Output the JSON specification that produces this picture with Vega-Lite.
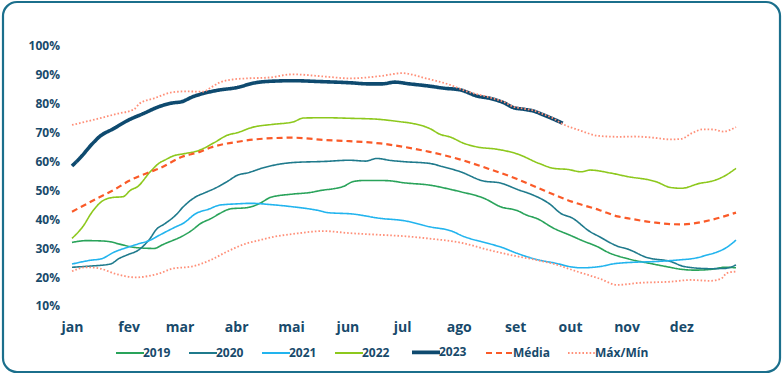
{
  "$schema": "https://vega.github.io/schema/vega-lite/v6.json",
  "width": 777,
  "height": 370,
  "autosize": {"type": "none"},
  "padding": {"left": 3, "top": 2, "right": 2, "bottom": 3},
  "background": "white",
  "config": {
    "view": {"stroke": "#1b6f8c", "strokeWidth": 2.2, "cornerRadius": 14, "fill": "white"},
    "font": "Open Sans"
  },
  "data": {
    "values": [
      {"s":"2019","g":"2019","d":0,"v":32},{"s":"2019","g":"2019","d":8,"v":32.6},{"s":"2019","g":"2019","d":16,"v":32.5},{"s":"2019","g":"2019","d":21,"v":32.2},{"s":"2019","g":"2019","d":26,"v":31.4},{"s":"2019","g":"2019","d":35,"v":30.2},{"s":"2019","g":"2019","d":45,"v":29.9},{"s":"2019","g":"2019","d":50,"v":31.3},{"s":"2019","g":"2019","d":55,"v":32.6},{"s":"2019","g":"2019","d":60,"v":34},{"s":"2019","g":"2019","d":66,"v":36.3},{"s":"2019","g":"2019","d":70,"v":38.3},{"s":"2019","g":"2019","d":77,"v":40.5},{"s":"2019","g":"2019","d":81,"v":42},{"s":"2019","g":"2019","d":87,"v":43.6},{"s":"2019","g":"2019","d":96,"v":44},{"s":"2019","g":"2019","d":103,"v":45.5},{"s":"2019","g":"2019","d":109,"v":47.6},{"s":"2019","g":"2019","d":121,"v":48.7},{"s":"2019","g":"2019","d":130,"v":49.2},{"s":"2019","g":"2019","d":136,"v":49.9},{"s":"2019","g":"2019","d":149,"v":51.4},{"s":"2019","g":"2019","d":154,"v":53},{"s":"2019","g":"2019","d":160,"v":53.4},{"s":"2019","g":"2019","d":169,"v":53.4},{"s":"2019","g":"2019","d":174,"v":53.3},{"s":"2019","g":"2019","d":182,"v":52.6},{"s":"2019","g":"2019","d":196,"v":51.8},{"s":"2019","g":"2019","d":209,"v":50.1},{"s":"2019","g":"2019","d":213,"v":49.5},{"s":"2019","g":"2019","d":226,"v":47.2},{"s":"2019","g":"2019","d":235,"v":44.3},{"s":"2019","g":"2019","d":244,"v":43},{"s":"2019","g":"2019","d":249,"v":41.5},{"s":"2019","g":"2019","d":255,"v":40.2},{"s":"2019","g":"2019","d":264,"v":36.9},{"s":"2019","g":"2019","d":274,"v":34.2},{"s":"2019","g":"2019","d":279,"v":32.8},{"s":"2019","g":"2019","d":289,"v":30.2},{"s":"2019","g":"2019","d":293,"v":28.8},{"s":"2019","g":"2019","d":305,"v":26.3},{"s":"2019","g":"2019","d":317,"v":24.7},{"s":"2019","g":"2019","d":326,"v":23.6},{"s":"2019","g":"2019","d":334,"v":22.7},{"s":"2019","g":"2019","d":341,"v":22.4},{"s":"2019","g":"2019","d":351,"v":22.7},{"s":"2019","g":"2019","d":358,"v":23.4},{"s":"2019","g":"2019","d":364,"v":23.2},

      {"s":"2020","g":"2020","d":0,"v":23.4},{"s":"2020","g":"2020","d":10,"v":23.8},{"s":"2020","g":"2020","d":21,"v":24.5},{"s":"2020","g":"2020","d":26,"v":26.5},{"s":"2020","g":"2020","d":30,"v":27.6},{"s":"2020","g":"2020","d":37,"v":29.6},{"s":"2020","g":"2020","d":43,"v":33.5},{"s":"2020","g":"2020","d":46,"v":36.3},{"s":"2020","g":"2020","d":51,"v":38.5},{"s":"2020","g":"2020","d":57,"v":41.5},{"s":"2020","g":"2020","d":61,"v":44.3},{"s":"2020","g":"2020","d":68,"v":47.8},{"s":"2020","g":"2020","d":73,"v":49.2},{"s":"2020","g":"2020","d":79,"v":50.9},{"s":"2020","g":"2020","d":85,"v":53},{"s":"2020","g":"2020","d":91,"v":55.3},{"s":"2020","g":"2020","d":96,"v":56},{"s":"2020","g":"2020","d":106,"v":58},{"s":"2020","g":"2020","d":121,"v":59.6},{"s":"2020","g":"2020","d":139,"v":60},{"s":"2020","g":"2020","d":152,"v":60.4},{"s":"2020","g":"2020","d":161,"v":60.1},{"s":"2020","g":"2020","d":167,"v":61},{"s":"2020","g":"2020","d":175,"v":60.3},{"s":"2020","g":"2020","d":182,"v":59.9},{"s":"2020","g":"2020","d":196,"v":59.3},{"s":"2020","g":"2020","d":203,"v":58.2},{"s":"2020","g":"2020","d":213,"v":56.4},{"s":"2020","g":"2020","d":225,"v":53.3},{"s":"2020","g":"2020","d":235,"v":52.5},{"s":"2020","g":"2020","d":245,"v":50.1},{"s":"2020","g":"2020","d":251,"v":48.8},{"s":"2020","g":"2020","d":262,"v":45.2},{"s":"2020","g":"2020","d":268,"v":42},{"s":"2020","g":"2020","d":274,"v":40.5},{"s":"2020","g":"2020","d":284,"v":35.7},{"s":"2020","g":"2020","d":289,"v":34},{"s":"2020","g":"2020","d":299,"v":30.7},{"s":"2020","g":"2020","d":305,"v":29.6},{"s":"2020","g":"2020","d":315,"v":26.8},{"s":"2020","g":"2020","d":328,"v":25.4},{"s":"2020","g":"2020","d":336,"v":23.6},{"s":"2020","g":"2020","d":350,"v":22.9},{"s":"2020","g":"2020","d":358,"v":23},{"s":"2020","g":"2020","d":364,"v":24.2},

      {"s":"2021","g":"2021","d":0,"v":24.5},{"s":"2021","g":"2021","d":10,"v":25.8},{"s":"2021","g":"2021","d":16,"v":26.3},{"s":"2021","g":"2021","d":23,"v":28.6},{"s":"2021","g":"2021","d":31,"v":30.4},{"s":"2021","g":"2021","d":36,"v":31.4},{"s":"2021","g":"2021","d":43,"v":32.8},{"s":"2021","g":"2021","d":48,"v":34.5},{"s":"2021","g":"2021","d":57,"v":37.4},{"s":"2021","g":"2021","d":61,"v":38.6},{"s":"2021","g":"2021","d":68,"v":42},{"s":"2021","g":"2021","d":75,"v":43.5},{"s":"2021","g":"2021","d":81,"v":44.9},{"s":"2021","g":"2021","d":90,"v":45.3},{"s":"2021","g":"2021","d":98,"v":45.5},{"s":"2021","g":"2021","d":110,"v":45},{"s":"2021","g":"2021","d":121,"v":44.3},{"s":"2021","g":"2021","d":136,"v":42.9},{"s":"2021","g":"2021","d":140,"v":42.3},{"s":"2021","g":"2021","d":154,"v":41.8},{"s":"2021","g":"2021","d":169,"v":40.3},{"s":"2021","g":"2021","d":182,"v":39.5},{"s":"2021","g":"2021","d":196,"v":37.4},{"s":"2021","g":"2021","d":209,"v":35.7},{"s":"2021","g":"2021","d":213,"v":34.5},{"s":"2021","g":"2021","d":229,"v":31.5},{"s":"2021","g":"2021","d":235,"v":30.4},{"s":"2021","g":"2021","d":244,"v":28.2},{"s":"2021","g":"2021","d":256,"v":25.9},{"s":"2021","g":"2021","d":265,"v":24.8},{"s":"2021","g":"2021","d":274,"v":23.5},{"s":"2021","g":"2021","d":279,"v":23.2},{"s":"2021","g":"2021","d":289,"v":23.6},{"s":"2021","g":"2021","d":297,"v":24.6},{"s":"2021","g":"2021","d":307,"v":25.1},{"s":"2021","g":"2021","d":317,"v":25.3},{"s":"2021","g":"2021","d":332,"v":25.9},{"s":"2021","g":"2021","d":342,"v":26.6},{"s":"2021","g":"2021","d":348,"v":27.6},{"s":"2021","g":"2021","d":355,"v":29},{"s":"2021","g":"2021","d":359,"v":30.3},{"s":"2021","g":"2021","d":364,"v":32.8},

      {"s":"2022","g":"2022","d":0,"v":33.4},{"s":"2022","g":"2022","d":6,"v":37.5},{"s":"2022","g":"2022","d":11,"v":42.5},{"s":"2022","g":"2022","d":16,"v":46},{"s":"2022","g":"2022","d":22,"v":47.5},{"s":"2022","g":"2022","d":28,"v":47.8},{"s":"2022","g":"2022","d":32,"v":50},{"s":"2022","g":"2022","d":36,"v":51.3},{"s":"2022","g":"2022","d":43,"v":56.5},{"s":"2022","g":"2022","d":48,"v":59.5},{"s":"2022","g":"2022","d":51,"v":60.5},{"s":"2022","g":"2022","d":56,"v":62},{"s":"2022","g":"2022","d":61,"v":62.6},{"s":"2022","g":"2022","d":70,"v":63.9},{"s":"2022","g":"2022","d":78,"v":66.5},{"s":"2022","g":"2022","d":85,"v":69},{"s":"2022","g":"2022","d":91,"v":70},{"s":"2022","g":"2022","d":99,"v":71.8},{"s":"2022","g":"2022","d":110,"v":72.8},{"s":"2022","g":"2022","d":121,"v":73.6},{"s":"2022","g":"2022","d":127,"v":75},{"s":"2022","g":"2022","d":139,"v":75.1},{"s":"2022","g":"2022","d":152,"v":74.9},{"s":"2022","g":"2022","d":167,"v":74.6},{"s":"2022","g":"2022","d":180,"v":73.7},{"s":"2022","g":"2022","d":186,"v":73.2},{"s":"2022","g":"2022","d":196,"v":71.4},{"s":"2022","g":"2022","d":202,"v":69.3},{"s":"2022","g":"2022","d":207,"v":68.5},{"s":"2022","g":"2022","d":215,"v":66.2},{"s":"2022","g":"2022","d":222,"v":65},{"s":"2022","g":"2022","d":233,"v":64.2},{"s":"2022","g":"2022","d":244,"v":62.6},{"s":"2022","g":"2022","d":256,"v":59.3},{"s":"2022","g":"2022","d":264,"v":57.6},{"s":"2022","g":"2022","d":272,"v":57.2},{"s":"2022","g":"2022","d":279,"v":56.4},{"s":"2022","g":"2022","d":284,"v":57},{"s":"2022","g":"2022","d":295,"v":56},{"s":"2022","g":"2022","d":305,"v":54.7},{"s":"2022","g":"2022","d":317,"v":53.5},{"s":"2022","g":"2022","d":320,"v":53},{"s":"2022","g":"2022","d":328,"v":51},{"s":"2022","g":"2022","d":334,"v":50.7},{"s":"2022","g":"2022","d":344,"v":52.4},{"s":"2022","g":"2022","d":351,"v":53.2},{"s":"2022","g":"2022","d":357,"v":54.7},{"s":"2022","g":"2022","d":364,"v":57.6},

      {"s":"Média","g":"Média","d":0,"v":42.6},{"s":"Média","g":"Média","d":15,"v":47.6},{"s":"Média","g":"Média","d":24,"v":50.5},{"s":"Média","g":"Média","d":31,"v":53.2},{"s":"Média","g":"Média","d":43,"v":56.4},{"s":"Média","g":"Média","d":48,"v":57.6},{"s":"Média","g":"Média","d":60,"v":61.5},{"s":"Média","g":"Média","d":70,"v":63.3},{"s":"Média","g":"Média","d":76,"v":64.8},{"s":"Média","g":"Média","d":91,"v":66.8},{"s":"Média","g":"Média","d":106,"v":67.9},{"s":"Média","g":"Média","d":121,"v":68.2},{"s":"Média","g":"Média","d":139,"v":67.4},{"s":"Média","g":"Média","d":152,"v":67},{"s":"Média","g":"Média","d":169,"v":66.2},{"s":"Média","g":"Média","d":182,"v":65},{"s":"Média","g":"Média","d":196,"v":63.3},{"s":"Média","g":"Média","d":213,"v":60.6},{"s":"Média","g":"Média","d":229,"v":57.3},{"s":"Média","g":"Média","d":244,"v":53.9},{"s":"Média","g":"Média","d":256,"v":50.7},{"s":"Média","g":"Média","d":267,"v":47.8},{"s":"Média","g":"Média","d":274,"v":46.1},{"s":"Média","g":"Média","d":289,"v":43.2},{"s":"Média","g":"Média","d":299,"v":41},{"s":"Média","g":"Média","d":305,"v":40.3},{"s":"Média","g":"Média","d":320,"v":38.8},{"s":"Média","g":"Média","d":334,"v":38.2},{"s":"Média","g":"Média","d":350,"v":39.7},{"s":"Média","g":"Média","d":364,"v":42.3},

      {"s":"2023","g":"2023","d":0,"v":58.4},{"s":"2023","g":"2023","d":5,"v":61.6},{"s":"2023","g":"2023","d":11,"v":66},{"s":"2023","g":"2023","d":15,"v":68.5},{"s":"2023","g":"2023","d":23,"v":71.4},{"s":"2023","g":"2023","d":31,"v":74.3},{"s":"2023","g":"2023","d":39,"v":76.5},{"s":"2023","g":"2023","d":48,"v":79},{"s":"2023","g":"2023","d":55,"v":80.2},{"s":"2023","g":"2023","d":60,"v":80.6},{"s":"2023","g":"2023","d":66,"v":82.3},{"s":"2023","g":"2023","d":72,"v":83.5},{"s":"2023","g":"2023","d":80,"v":84.6},{"s":"2023","g":"2023","d":91,"v":85.6},{"s":"2023","g":"2023","d":99,"v":87},{"s":"2023","g":"2023","d":106,"v":87.6},{"s":"2023","g":"2023","d":121,"v":87.9},{"s":"2023","g":"2023","d":136,"v":87.6},{"s":"2023","g":"2023","d":152,"v":87.2},{"s":"2023","g":"2023","d":163,"v":86.8},{"s":"2023","g":"2023","d":170,"v":86.8},{"s":"2023","g":"2023","d":177,"v":87.4},{"s":"2023","g":"2023","d":185,"v":86.8},{"s":"2023","g":"2023","d":195,"v":86.1},{"s":"2023","g":"2023","d":204,"v":85.3},{"s":"2023","g":"2023","d":213,"v":84.7},{"s":"2023","g":"2023","d":222,"v":82.6},{"s":"2023","g":"2023","d":229,"v":81.8},{"s":"2023","g":"2023","d":237,"v":80.2},{"s":"2023","g":"2023","d":242,"v":78.6},{"s":"2023","g":"2023","d":248,"v":78},{"s":"2023","g":"2023","d":253,"v":77.4},{"s":"2023","g":"2023","d":258,"v":76.2},{"s":"2023","g":"2023","d":264,"v":74.6},{"s":"2023","g":"2023","d":269,"v":73.2},

      {"s":"Máx/Mín","g":"max","d":0,"v":72.6},{"s":"Máx/Mín","g":"max","d":8,"v":73.8},{"s":"Máx/Mín","g":"max","d":15,"v":74.9},{"s":"Máx/Mín","g":"max","d":25,"v":76.5},{"s":"Máx/Mín","g":"max","d":34,"v":78},{"s":"Máx/Mín","g":"max","d":37,"v":80},{"s":"Máx/Mín","g":"max","d":45,"v":81.8},{"s":"Máx/Mín","g":"max","d":55,"v":83.9},{"s":"Máx/Mín","g":"max","d":62,"v":84.2},{"s":"Máx/Mín","g":"max","d":72,"v":84.1},{"s":"Máx/Mín","g":"max","d":76,"v":85.5},{"s":"Máx/Mín","g":"max","d":81,"v":87.3},{"s":"Máx/Mín","g":"max","d":89,"v":88.4},{"s":"Máx/Mín","g":"max","d":96,"v":88.7},{"s":"Máx/Mín","g":"max","d":108,"v":89},{"s":"Máx/Mín","g":"max","d":121,"v":90.1},{"s":"Máx/Mín","g":"max","d":139,"v":89.3},{"s":"Máx/Mín","g":"max","d":152,"v":88.7},{"s":"Máx/Mín","g":"max","d":169,"v":89.5},{"s":"Máx/Mín","g":"max","d":181,"v":90.5},{"s":"Máx/Mín","g":"max","d":194,"v":88.7},{"s":"Máx/Mín","g":"max","d":207,"v":86.5},{"s":"Máx/Mín","g":"max","d":216,"v":84.3},{"s":"Máx/Mín","g":"max","d":229,"v":82.1},{"s":"Máx/Mín","g":"max","d":237,"v":80.5},{"s":"Máx/Mín","g":"max","d":242,"v":78.9},{"s":"Máx/Mín","g":"max","d":248,"v":78.2},{"s":"Máx/Mín","g":"max","d":253,"v":77.6},{"s":"Máx/Mín","g":"max","d":258,"v":76.4},{"s":"Máx/Mín","g":"max","d":264,"v":74.8},{"s":"Máx/Mín","g":"max","d":269,"v":72.9},{"s":"Máx/Mín","g":"max","d":278,"v":70.8},{"s":"Máx/Mín","g":"max","d":289,"v":68.8},{"s":"Máx/Mín","g":"max","d":300,"v":68.5},{"s":"Máx/Mín","g":"max","d":308,"v":68.6},{"s":"Máx/Mín","g":"max","d":317,"v":68.3},{"s":"Máx/Mín","g":"max","d":328,"v":67.6},{"s":"Máx/Mín","g":"max","d":334,"v":67.8},{"s":"Máx/Mín","g":"max","d":340,"v":69.8},{"s":"Máx/Mín","g":"max","d":346,"v":71.1},{"s":"Máx/Mín","g":"max","d":352,"v":71},{"s":"Máx/Mín","g":"max","d":357,"v":70.3},{"s":"Máx/Mín","g":"max","d":364,"v":71.9},

      {"s":"Máx/Mín","g":"min","d":0,"v":22},{"s":"Máx/Mín","g":"min","d":8,"v":23.4},{"s":"Máx/Mín","g":"min","d":15,"v":23},{"s":"Máx/Mín","g":"min","d":24,"v":21.1},{"s":"Máx/Mín","g":"min","d":35,"v":19.9},{"s":"Máx/Mín","g":"min","d":43,"v":20.5},{"s":"Máx/Mín","g":"min","d":48,"v":21.3},{"s":"Máx/Mín","g":"min","d":55,"v":22.9},{"s":"Máx/Mín","g":"min","d":66,"v":23.7},{"s":"Máx/Mín","g":"min","d":76,"v":25.9},{"s":"Máx/Mín","g":"min","d":85,"v":28.8},{"s":"Máx/Mín","g":"min","d":95,"v":31.5},{"s":"Máx/Mín","g":"min","d":103,"v":32.8},{"s":"Máx/Mín","g":"min","d":111,"v":34},{"s":"Máx/Mín","g":"min","d":121,"v":34.9},{"s":"Máx/Mín","g":"min","d":138,"v":35.9},{"s":"Máx/Mín","g":"min","d":152,"v":35.2},{"s":"Máx/Mín","g":"min","d":169,"v":34.6},{"s":"Máx/Mín","g":"min","d":183,"v":34.1},{"s":"Máx/Mín","g":"min","d":196,"v":33.3},{"s":"Máx/Mín","g":"min","d":213,"v":31.9},{"s":"Máx/Mín","g":"min","d":229,"v":29.3},{"s":"Máx/Mín","g":"min","d":243,"v":27.3},{"s":"Máx/Mín","g":"min","d":253,"v":26.1},{"s":"Máx/Mín","g":"min","d":265,"v":24.4},{"s":"Máx/Mín","g":"min","d":275,"v":22.3},{"s":"Máx/Mín","g":"min","d":289,"v":19.5},{"s":"Máx/Mín","g":"min","d":299,"v":17.3},{"s":"Máx/Mín","g":"min","d":311,"v":18},{"s":"Máx/Mín","g":"min","d":328,"v":18.4},{"s":"Máx/Mín","g":"min","d":339,"v":19},{"s":"Máx/Mín","g":"min","d":350,"v":18.7},{"s":"Máx/Mín","g":"min","d":356,"v":19.5},{"s":"Máx/Mín","g":"min","d":359,"v":21.4},{"s":"Máx/Mín","g":"min","d":364,"v":21.9}
    ]
  },
  "encoding": {
    "x": {
      "field": "d", "type": "quantitative",
      "scale": {"domain": [-37.83, 388.12], "nice": false, "zero": false},
      "axis": {
        "title": null, "values": [0, 31, 59, 90, 120, 151, 181, 212, 243, 273, 304, 334],
        "labelExpr": "['jan','fev','mar','abr','mai','jun','jul','ago','set','out','nov','dez'][indexof([0,31,59,90,120,151,181,212,243,273,304,334], datum.value)]",
        "grid": false, "domain": false, "ticks": false, "tickSize": 0,
        "offset": -40.5, "labelPadding": 0, "labelBaseline": "alphabetic",
        "labelFont": "Open Sans", "labelFontWeight": "bold", "labelFontSize": 14,
        "labelColor": "#184a6b", "labelFlush": false, "labelOverlap": false
      }
    },
    "y": {
      "field": "v", "type": "quantitative",
      "scale": {"domain": [-12.82, 115.11], "nice": false, "zero": false},
      "axis": {
        "title": null, "values": [10, 20, 30, 40, 50, 60, 70, 80, 90, 100],
        "labelExpr": "datum.value + '%'",
        "grid": false, "domain": false, "ticks": false, "tickSize": 0,
        "offset": -56.5, "labelPadding": 0,
        "labelFont": "Open Sans", "labelFontWeight": "bold", "labelFontSize": 12,
        "labelColor": "#184a6b", "labelOverlap": false
      }
    }
  },
  "layer": [
    {
      "data": {"values": [{"nivel": 10}]},
      "mark": {"type": "rule", "color": "#e5ecef", "strokeWidth": 1.2},
      "encoding": {
        "x": {"datum": 0, "type": "quantitative"},
        "x2": {"datum": 364},
        "y": {"field": "nivel", "type": "quantitative"}
      }
    },
    {
      "encoding": {
        "color": {
          "field": "s", "type": "nominal",
          "scale": {
            "domain": ["2019", "2020", "2021", "2022", "2023", "Média", "Máx/Mín"],
            "range": ["#29a35a", "#1f7a8c", "#22b4ee", "#8dc81d", "#0e4a6f", "#fa5a28", "#ff8f78"]
          },
          "legend": {
            "orient": "none", "legendX": 121, "legendY": 344, "direction": "horizontal", "title": null,
            "symbolType": "stroke", "symbolSize": 784, "labelOffset": 7, "columnPadding": 14,
            "labelFont": "Open Sans", "labelFontWeight": "bold", "labelFontSize": 12, "labelColor": "#184a6b",
            "encode": {"symbols": {"update": {"strokeWidth": {"signal": "datum.value === '2023' ? 3.6 : datum.value === 'Média' ? 2.2 : 1.8"}}}}
          }
        },
        "strokeDash": {
          "field": "s", "type": "nominal",
          "scale": {
            "domain": ["2019", "2020", "2021", "2022", "2023", "Média", "Máx/Mín"],
            "range": [[1, 0], [1, 0], [1, 0], [1, 0], [1, 0], [6, 4], [1.6, 2]]
          },
          "legend": {
            "orient": "none", "legendX": 121, "legendY": 344, "direction": "horizontal", "title": null,
            "symbolType": "stroke", "symbolSize": 784, "labelOffset": 7, "columnPadding": 14,
            "labelFont": "Open Sans", "labelFontWeight": "bold", "labelFontSize": 12, "labelColor": "#184a6b",
            "encode": {"symbols": {"update": {"strokeWidth": {"signal": "datum.value === '2023' ? 3.6 : datum.value === 'Média' ? 2.2 : 1.8"}}}}
          }
        },
        "detail": {"field": "g", "type": "nominal"}
      },
      "layer": [
        {
          "transform": [{"filter": "indexof(['2019','2020','2021','2022'], datum.s) >= 0"}],
          "mark": {"type": "line", "interpolate": "monotone", "strokeWidth": 1.6}
        },
        {
          "transform": [{"filter": "datum.s === 'Média'"}],
          "mark": {"type": "line", "interpolate": "monotone", "strokeWidth": 2.2}
        },
        {
          "transform": [{"filter": "datum.s === '2023'"}],
          "mark": {"type": "line", "interpolate": "monotone", "strokeWidth": 3.6}
        },
        {
          "transform": [{"filter": "datum.s === 'Máx/Mín'"}],
          "mark": {"type": "line", "interpolate": "monotone", "strokeWidth": 1.8}
        }
      ]
    }
  ]
}
